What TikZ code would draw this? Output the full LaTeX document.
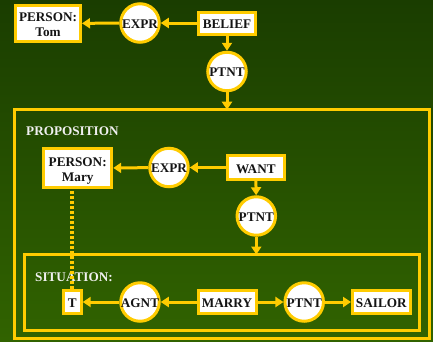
\documentclass[tikz,border=0pt]{standalone}
\usepackage{fontspec}
\setmainfont{Liberation Serif}
\usetikzlibrary{arrows.meta}
\definecolor{bgtop}{RGB}{26,61,0}
\definecolor{bgbot}{RGB}{49,99,0}
\definecolor{gold}{RGB}{255,204,0}
\definecolor{ink}{RGB}{20,20,20}
\begin{document}
\begin{tikzpicture}[x=1pt,y=-1pt,
  lab/.style={font=\fontsize{13.2}{15}\selectfont\bfseries},
  cbox/.style={draw=gold, fill=white, line width=3pt, inner sep=0pt, text=ink, lab, text height=11pt, text depth=0pt},
  cbox2/.style={cbox, align=center, text height=26.5pt, text depth=0pt},
  rel/.style={circle, draw=gold, fill=white, line width=3pt, inner sep=0pt, minimum size=38.5pt, text=ink, lab, text height=10.5pt, text depth=0pt},
  arr/.style={draw=gold, line width=3pt, -{Triangle[length=8pt,width=10pt]}},
  ctx/.style={draw=gold, line width=3pt, inner sep=0pt, outer sep=0pt, anchor=north west},
  ctxlab/.style={lab, text=white!94!black, anchor=base west, inner sep=0pt},
  dots/.style={draw=gold, line width=3.5pt, dash pattern=on 3pt off 2pt},
]
\shade[top color=bgtop,bottom color=bgbot] (0,0) rectangle (433,341);
\useasboundingbox (0,0) rectangle (433,341);

\node[cbox2, minimum width=65pt, minimum height=36pt] (tom) at (48,23.5) {PERSON:\\Tom};
\node[rel] (expr1) at (140,23) {\makebox[0pt]{EXPR}};
\node[cbox, minimum width=57pt, minimum height=22pt] (belief) at (227,23) {BELIEF};
\node[rel] (ptnt1) at (227,71.5) {\makebox[0pt]{PTNT}};
\node[ctx, minimum width=414.3pt, minimum height=228.8pt] (prop) at (14.7,109.7) {};
\node[ctxlab] (proplab) at (26,135.8) {PROPOSITION};

\node[cbox2, minimum width=68pt, minimum height=39pt] (mary) at (77.7,168.2) {PERSON:\\Mary};
\node[rel] (expr2) at (169,167.5) {\makebox[0pt]{EXPR}};
\node[cbox, minimum width=57.5pt, minimum height=24pt] (want) at (255.8,167.5) {WANT};
\node[rel] (ptnt2) at (256.3,216) {\makebox[0pt]{PTNT}};
\node[ctx, minimum width=395pt, minimum height=75.8pt] (sit) at (24,254.5) {};
\node[ctxlab] (sitlab) at (35,281.5) {SITUATION:};

\node[cbox, minimum width=18pt, minimum height=23pt] (t) at (72.2,302) {T};
\node[rel] (agnt) at (140,302) {\makebox[0pt]{AGNT}};
\node[cbox, minimum width=58pt, minimum height=23pt] (marry) at (227,302) {MARRY};
\node[rel] (ptnt3) at (304.2,302) {\makebox[0pt]{PTNT}};
\node[cbox, minimum width=57.5pt, minimum height=23pt] (sailor) at (381.3,302) {SAILOR};

\draw[arr] (expr1) -- (tom);
\draw[arr] (belief) -- (expr1);
\draw[arr] (belief) -- (ptnt1);
\draw[arr] (ptnt1) -- (ptnt1 |- prop.north);
\draw[arr] (expr2) -- (mary);
\draw[arr] (want) -- (expr2);
\draw[arr] (want) -- (ptnt2);
\draw[arr] (ptnt2) -- (ptnt2 |- sit.north);
\draw[arr] (agnt) -- (t);
\draw[arr] (marry) -- (agnt);
\draw[arr] (marry) -- (ptnt3);
\draw[arr] (ptnt3) -- (sailor);
\draw[dots] (t.north) -- (t.north |- mary.south);
\end{tikzpicture}
\end{document}
